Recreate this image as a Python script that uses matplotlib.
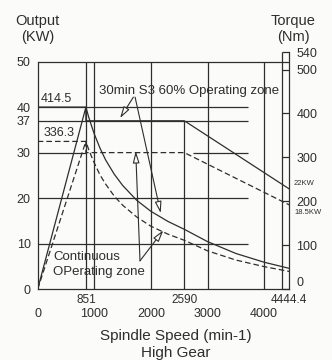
import matplotlib
matplotlib.use('Agg')
import matplotlib.pyplot as plt

plt.rcParams['font.family'] = ['Liberation Sans', 'DejaVu Sans']

INK = '#2e2e2e'; BG = '#fbfbf9'
DASH = (0, (4.5, 2.4))

# output (kW) curves, left axis
power_speed = [0, 851, 851, 2590, 4444.4]
s3_kw = [0, 40, 37, 37, 22]
cont_kw = [0, 32.5, 30, 30, 18.5]

# torque (Nm) curves, right axis
torque_speed = [0, 851, 900, 950, 1000, 1100, 1200, 1350, 1500, 1750, 2000,
                2300, 2590, 3000, 3500, 4000, 4444.4]
s3_nm = [414.5, 414.5, 392, 372, 353, 321, 294, 262, 236, 202, 177,
         154, 136, 108, 81, 61, 47]
cont_nm = [336.3, 336.3, 318, 302, 287, 260, 239, 212, 191, 164, 143,
           125, 111, 87, 66, 51, 40]

kw_ticks = [0, 10, 20, 30, 37, 40, 50]
nm_ticks = [0, 100, 200, 300, 400, 500, 540]
speed_ticks = [0, 1000, 2000, 3000, 4000]
speed_marks = [851, 2590, 4444.4]
speed_marks_lbl = ['851', '2590', '4444.4']

X_MAX = 4444.4
NM_PER_KW = 10.36
KW_TOP = 540 / NM_PER_KW

fig = plt.figure(figsize=(3.32, 3.6), dpi=100, facecolor=BG)
ax = fig.add_axes([0.1136, 0.1972, 0.7578, 0.6583])
ax.set_facecolor(BG)
ax.set_xlim(0, X_MAX); ax.set_ylim(0, KW_TOP)

# frame + grid
ax.hlines(50, 0, X_MAX, color=INK, lw=0.9)
ax.hlines([10, 20, 37, 40], 0, 3720, color=INK, lw=0.9)
ax.hlines(30, 0, 851, color=INK, lw=0.9)
ax.hlines(30, 2740, 3720, color=INK, lw=0.9)
ax.vlines([851, 1000, 2000, 3000, 4000], 0, 50, color=INK, lw=0.9)
ax.vlines(2590, 0, 37, color=INK, lw=0.9)
ax.vlines(4320, 0, KW_TOP, color=INK, lw=0.9)

ax.plot(power_speed, s3_kw, color=INK, lw=0.9)
ax.plot(power_speed, cont_kw, color=INK, lw=0.9, linestyle=DASH)

for sp in ['top', 'right']:
    ax.spines[sp].set_visible(False)
ax.spines['left'].set_bounds(0, 50)
for sp in ['left', 'bottom']:
    ax.spines[sp].set_color(INK); ax.spines[sp].set_linewidth(0.9)

ax.set_yticks(kw_ticks)
ax.tick_params(axis='y', length=0, pad=5, labelsize=9, labelcolor=INK)
ax.set_xticks(speed_ticks)
ax.set_xticks(speed_marks, minor=True)
ax.set_xticklabels(speed_marks_lbl, minor=True)
ax.tick_params(axis='x', which='major', length=0, pad=14, labelsize=9, labelcolor=INK)
ax.tick_params(axis='x', which='minor', length=0, pad=3.5, labelsize=8.5, labelcolor=INK)

ax2 = ax.twinx()
ax2.set_ylim(0, 540)
ax2.plot(torque_speed, s3_nm, color=INK, lw=0.9)
ax2.plot(torque_speed, cont_nm, color=INK, lw=0.9, linestyle=DASH)
for sp in ['top', 'left', 'bottom']:
    ax2.spines[sp].set_visible(False)
ax2.spines['right'].set_color(INK); ax2.spines['right'].set_linewidth(0.9)
ax2.set_yticks(nm_ticks)
ax2.tick_params(axis='y', direction='in', length=5, width=0.9, color=INK,
                pad=5, labelsize=9, labelcolor=INK)
ax2.get_yticklabels()[0].set_va('bottom')

# value labels
ax.text(60, 40.4, '414.5', fontsize=9, color=INK, va='bottom')
ax.text(95, 33.0, '336.3', fontsize=9, color=INK, va='bottom')
ax.text(X_MAX + 70, 23.2, '22KW', fontsize=5.5, color=INK, va='center', clip_on=False)
ax.text(X_MAX + 100, 16.8, '18.5KW', fontsize=5.5, color=INK, va='center', clip_on=False)

# zone labels and pointers
ax.text(1085, 43.6, '30min S3 60% Operating zone', fontsize=9.5, color=INK, va='center')
ax.text(270, 5.4, 'Continuous\nOPerating zone', fontsize=9.5, color=INK,
        va='center', linespacing=1.25)

arrow = dict(arrowstyle='-|>,head_length=0.7,head_width=0.2', mutation_scale=10,
             fc='white', ec=INK, lw=0.8, shrinkA=0, shrinkB=0)
ax.annotate('', xy=(1455, 37.6), xytext=(1690, 42.2), arrowprops=arrow)
ax.annotate('', xy=(2173, 16.7), xytext=(1720, 42.2), arrowprops=arrow)
ax.annotate('', xy=(1731, 30.3), xytext=(1807, 6.2), arrowprops=arrow)
ax.annotate('', xy=(2219, 12.9), xytext=(1807, 6.2), arrowprops=arrow)

fig.text(0.113, 0.919, 'Output\n(KW)', fontsize=10.5, color=INK, ha='center', va='center',
         linespacing=1.2)
fig.text(0.883, 0.919, 'Torque\n(Nm)', fontsize=10.5, color=INK, ha='center', va='center',
         linespacing=1.2)
fig.text(0.53, 0.067, 'Spindle Speed (min-1)', fontsize=11, color=INK, ha='center', va='center')
fig.text(0.53, 0.02, 'High Gear', fontsize=11, color=INK, ha='center', va='center')

fig.savefig('out.png', dpi=100, facecolor=BG)
